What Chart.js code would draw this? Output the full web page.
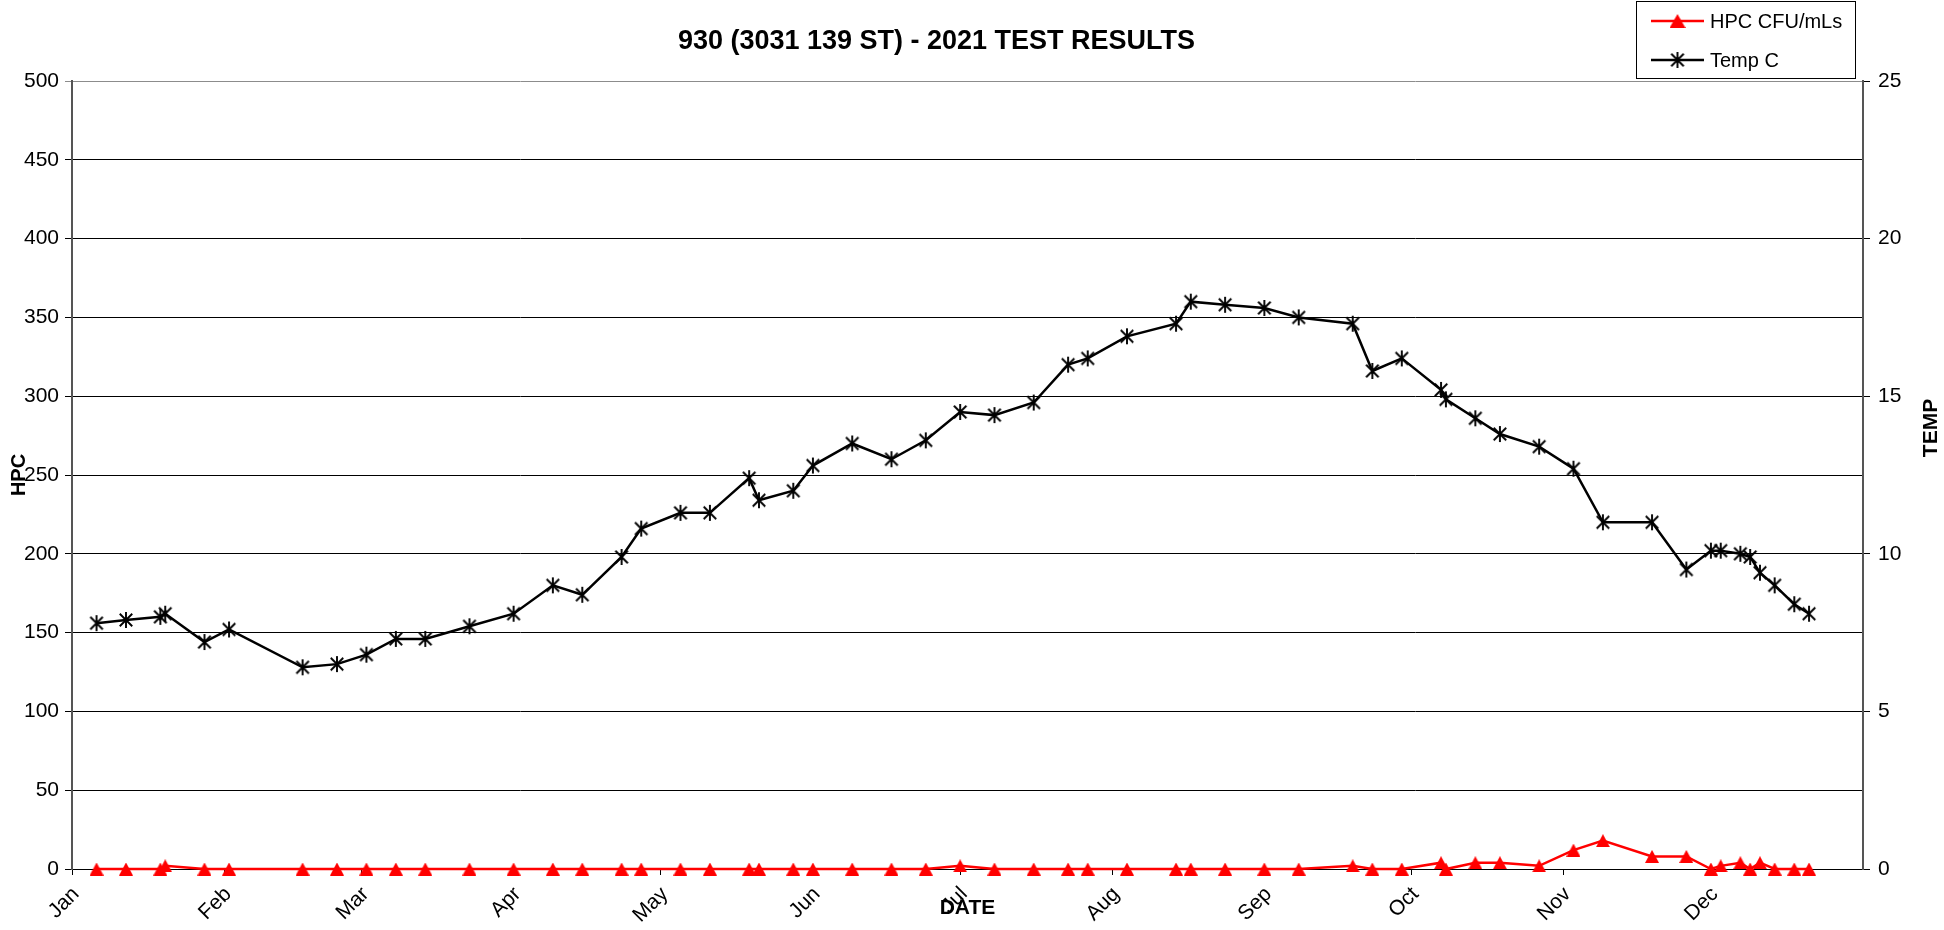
<!DOCTYPE html>
<html>
<head>
<meta charset="utf-8">
<script src="https://cdn.jsdelivr.net/npm/chart.js@4.4.1/dist/chart.umd.min.js"></script>
<style>
html,body{margin:0;padding:0;background:#fff;}
#wrap{width:1944px;height:930px;position:relative;}
</style>
</head>
<body>
<div id="wrap"><canvas id="c" width="1944" height="930"></canvas></div>
<script>
const chartTitle = '930 (3031 139 ST) - 2021 TEST RESULTS';
const hpcLabel = 'HPC CFU/mLs';
const tempLabel = 'Temp C';

const sampleDates = [
  '2021-01-06','2021-01-12','2021-01-19','2021-01-20','2021-01-28',
  '2021-02-02','2021-02-17','2021-02-24',
  '2021-03-02','2021-03-08','2021-03-14','2021-03-23',
  '2021-04-01','2021-04-09','2021-04-15','2021-04-23','2021-04-27',
  '2021-05-05','2021-05-11','2021-05-19','2021-05-21','2021-05-28',
  '2021-06-01','2021-06-09','2021-06-17','2021-06-24',
  '2021-07-01','2021-07-08','2021-07-16','2021-07-23','2021-07-27',
  '2021-08-04','2021-08-14','2021-08-17','2021-08-24',
  '2021-09-01','2021-09-08','2021-09-19','2021-09-23','2021-09-29',
  '2021-10-07','2021-10-08','2021-10-14','2021-10-19','2021-10-27',
  '2021-11-03','2021-11-09','2021-11-19','2021-11-26',
  '2021-12-01','2021-12-03','2021-12-07','2021-12-09','2021-12-11','2021-12-14','2021-12-18','2021-12-21'
];

const hpcValues = [
  0,0,0,2,0,
  0,0,0,
  0,0,0,0,
  0,0,0,0,0,
  0,0,0,0,0,
  0,0,0,0,
  2,0,0,0,0,
  0,0,0,0,
  0,0,2,0,0,
  4,0,4,4,2,
  12,18,8,8,
  0,2,4,0,4,0,0,0
];

const tempValues = [
  7.8,7.9,8.0,8.1,7.2,
  7.6,6.4,6.5,
  6.8,7.3,7.3,7.7,
  8.1,9.0,8.7,9.9,10.8,
  11.3,11.3,12.4,11.7,12.0,
  12.8,13.5,13.0,13.6,
  14.5,14.4,14.8,16.0,16.2,
  16.9,17.3,18.0,17.9,
  17.8,17.5,17.3,15.8,16.2,
  15.2,14.9,14.3,13.8,13.4,
  12.7,11.0,11.0,9.5,
  10.1,10.1,10.0,9.9,9.4,9.0,8.4,8.1
];

const monthLabels = ['Jan','Feb','Mar','Apr','May','Jun','Jul','Aug','Sep','Oct','Nov','Dec'];
const monthStartDates = ['2021-01-01','2021-02-01','2021-03-01','2021-04-01','2021-05-01','2021-06-01',
  '2021-07-01','2021-08-01','2021-09-01','2021-10-01','2021-11-01','2021-12-01'];
const axisStart = '2021-01-01';
const axisEnd = '2022-01-01';

function dayOf(s) {
  const [y, m, d] = s.split('-').map(Number);
  const [y0, m0, d0] = axisStart.split('-').map(Number);
  return (Date.UTC(y, m - 1, d) - Date.UTC(y0, m0 - 1, d0)) / 86400000;
}

const monthTicks = monthStartDates.map(dayOf);

function makeAsterisk(size, lw) {
  const c = document.createElement('canvas');
  c.width = size; c.height = size;
  const g = c.getContext('2d');
  g.strokeStyle = '#000';
  g.lineWidth = lw;
  const m = size / 2, r = size / 2 - 1, d = r * 0.78;
  g.beginPath();
  g.moveTo(m, m - r); g.lineTo(m, m + r);
  g.moveTo(m - d, m - d); g.lineTo(m + d, m + d);
  g.moveTo(m + d, m - d); g.lineTo(m - d, m + d);
  g.stroke();
  return c;
}
function makeTriangle(w, h, color) {
  const c = document.createElement('canvas');
  c.width = w; c.height = h;
  const g = c.getContext('2d');
  g.fillStyle = color;
  g.beginPath();
  g.moveTo(w / 2, 0); g.lineTo(w, h); g.lineTo(0, h);
  g.closePath();
  g.fill();
  return c;
}
const asterisk = makeAsterisk(18, 1.9);
const triangle = makeTriangle(14, 13, '#ff0000');
const legendTriangle = makeTriangle(16, 14, '#ff0000');

const FONT = '"Liberation Sans", Arial, sans-serif';

const overlayPlugin = {
  id: 'overlay',
  afterDraw(chart) {
    const ctx = chart.ctx;
    const ca = chart.chartArea;
    ctx.save();
    // chart title
    ctx.fillStyle = '#000';
    ctx.textAlign = 'center';
    ctx.textBaseline = 'middle';
    ctx.font = 'bold 27px ' + FONT;
    ctx.fillText(chartTitle, (ca.left + ca.right) / 2 - 31, 42);

    // right axis title
    ctx.save();
    ctx.translate(1931, 428);
    ctx.rotate(-Math.PI / 2);
    ctx.font = 'bold 21px ' + FONT;
    ctx.fillText('TEMP', 0, 0);
    ctx.restore();

    // legend box
    const bx = 1636.5, by = 1.5, bw = 219, bh = 77;
    ctx.fillStyle = '#fff';
    ctx.fillRect(bx, by, bw, bh);
    ctx.strokeStyle = '#000';
    ctx.lineWidth = 1;
    ctx.strokeRect(bx, by, bw, bh);
    const markers = [legendTriangle, asterisk];
    chart.data.datasets.forEach((ds, i) => {
      const y = 21 + i * 39;
      ctx.strokeStyle = ds.borderColor;
      ctx.lineWidth = 2.5;
      ctx.beginPath();
      ctx.moveTo(1651, y); ctx.lineTo(1704, y);
      ctx.stroke();
      const mk = markers[i];
      ctx.drawImage(mk, 1677.5 - mk.width / 2, y - mk.height / 2);
      ctx.fillStyle = '#000';
      ctx.textAlign = 'left';
      ctx.textBaseline = 'middle';
      ctx.font = '20px ' + FONT;
      ctx.fillText(ds.label, 1710, y + 1);
    });
    ctx.restore();
  }
};

new Chart(document.getElementById('c'), {
  type: 'line',
  data: {
    datasets: [
      {
        label: hpcLabel,
        data: sampleDates.map((d, i) => ({x: dayOf(d), y: hpcValues[i]})),
        yAxisID: 'y',
        borderColor: '#ff0000',
        backgroundColor: '#ff0000',
        pointBackgroundColor: '#ff0000',
        pointBorderColor: '#ff0000',
        pointStyle: triangle,
        pointRadius: 8,
        borderWidth: 2.5,
        tension: 0,
        clip: false
      },
      {
        label: tempLabel,
        data: sampleDates.map((d, i) => ({x: dayOf(d), y: tempValues[i]})),
        yAxisID: 'y1',
        borderColor: '#000000',
        backgroundColor: '#000000',
        pointBackgroundColor: '#000000',
        pointBorderColor: '#000000',
        pointStyle: asterisk,
        pointRadius: 9,
        borderWidth: 2.5,
        tension: 0,
        clip: false
      }
    ]
  },
  options: {
    responsive: false,
    animation: false,
    devicePixelRatio: 1,
    layout: {padding: {top: 81, left: 0, right: 0, bottom: 0}},
    plugins: {
      legend: {display: false},
      title: {display: false},
      tooltip: {enabled: false}
    },
    scales: {
      x: {
        type: 'linear',
        min: dayOf(axisStart),
        max: dayOf(axisEnd),
        afterBuildTicks(scale) {
          scale.ticks = monthTicks.map(v => ({value: v}));
        },
        afterFit(scale) { scale.height = 61; },
        ticks: {
          autoSkip: false,
          maxRotation: 45,
          minRotation: 45,
          color: '#000',
          font: {family: FONT, size: 21},
          padding: 7,
          labelOffset: 4,
          callback: (v, i) => monthLabels[i]
        },
        grid: {drawOnChartArea: false, drawTicks: true, tickLength: 6, color: '#000'},
        border: {display: true, color: '#000', width: 1},
        title: {display: true, text: 'DATE', color: '#000', font: {family: FONT, size: 21, weight: 'bold'}, padding: {top: 0, bottom: 9}}
      },
      y: {
        position: 'left',
        min: 0,
        max: 500,
        afterFit(scale) { scale.width = 72; },
        ticks: {stepSize: 50, color: '#000', font: {family: FONT, size: 21}, padding: 6},
        grid: {
          color: ctx => (ctx.tick && ctx.tick.value === 500) ? '#8c8c8c' : '#000',
          lineWidth: 1,
          drawTicks: true,
          tickLength: 7
        },
        border: {display: true, color: '#555', width: 2},
        title: {display: true, text: 'HPC', color: '#000', font: {family: FONT, size: 20, weight: 'bold'}, padding: {top: 7, bottom: 0}}
      },
      y1: {
        position: 'right',
        min: 0,
        max: 25,
        afterFit(scale) { scale.width = 81; },
        ticks: {stepSize: 5, color: '#000', font: {family: FONT, size: 21}, padding: 8},
        grid: {drawOnChartArea: false, drawTicks: true, tickLength: 7, color: '#000'},
        border: {display: true, color: '#555', width: 2}
      }
    }
  },
  plugins: [overlayPlugin]
});
</script>
</body>
</html>
